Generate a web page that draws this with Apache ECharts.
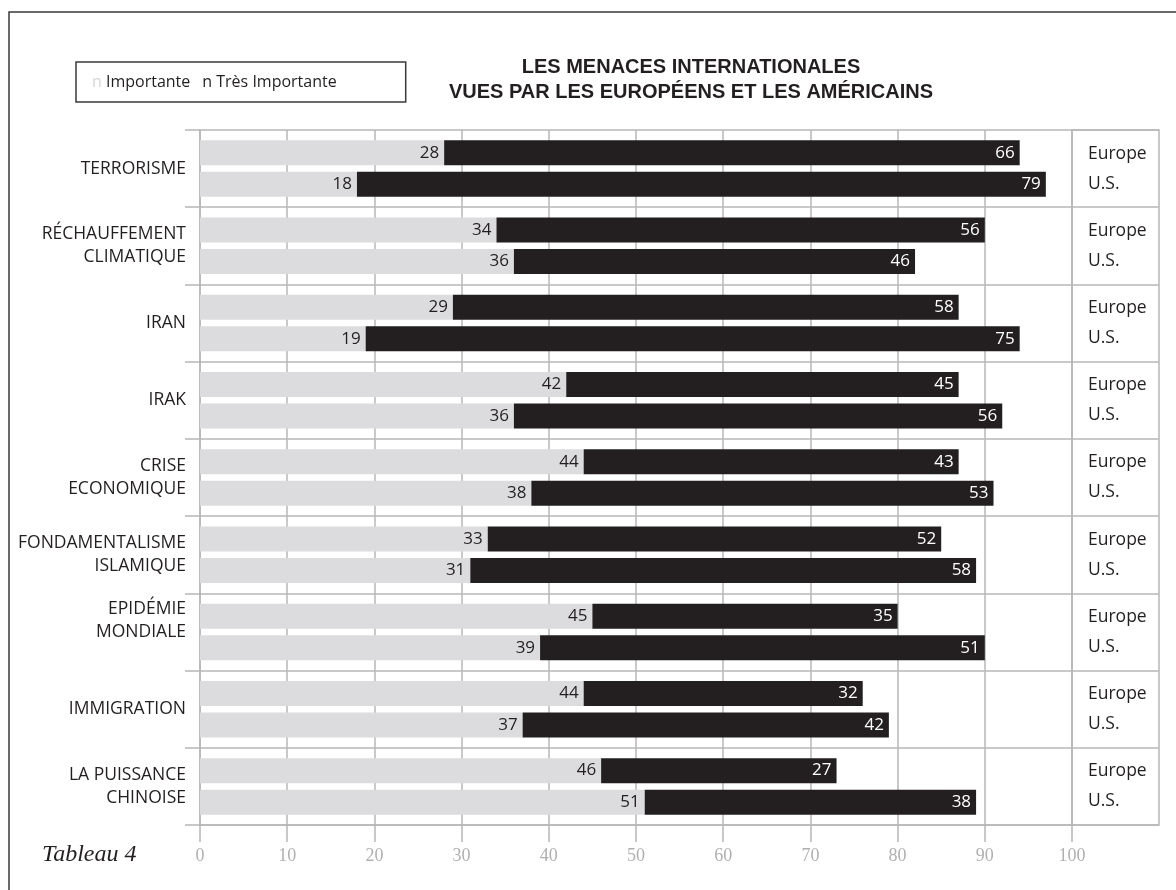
<!DOCTYPE html>
<html>
<head>
<meta charset="utf-8">
<title>Les menaces internationales</title>
<script src="https://cdn.jsdelivr.net/npm/echarts@6/dist/echarts.min.js"></script>
<style>
  html, body { margin: 0; padding: 0; background: #ffffff; }
  #chart { width: 1176px; height: 890px; }
</style>
</head>
<body>
<div id="chart"></div>
<script>
// categories, top to bottom
var categories = [
  'TERRORISME',
  'RÉCHAUFFEMENT\nCLIMATIQUE',
  'IRAN',
  'IRAK',
  'CRISE\nECONOMIQUE',
  'FONDAMENTALISME\nISLAMIQUE',
  'EPIDÉMIE\nMONDIALE',
  'IMMIGRATION',
  'LA PUISSANCE\nCHINOISE'
]
var regions = ['Europe', 'U.S.']
var xTicks = [0, 10, 20, 30, 40, 50, 60, 70, 80, 90, 100]

// % importante / très importante
var europeImportante = [28, 34, 29, 42, 44, 33, 45, 44, 46]
var europeTres = [66, 56, 58, 45, 43, 52, 35, 32, 27]
var usImportante = [18, 36, 19, 36, 38, 31, 39, 37, 51]
var usTres = [79, 46, 75, 56, 53, 58, 51, 42, 38]

var GRAY = '#dcdcde'
var DARK = '#231f20'
var LINE = '#b7b7b9'
var SANS = '"Open Sans", "Noto Sans", sans-serif'
var SERIF = '"Liberation Serif", "DejaVu Serif", serif'

var chart = echarts.init(document.getElementById('chart'))

function barSeries(name, stack, data, color, labelColor) {
  return {
    name: name,
    type: 'bar',
    stack: stack,
    barWidth: 25,
    barGap: '26%',
    data: data,
    itemStyle: { color: color },
    label: {
      show: true,
      position: 'insideRight',
      distance: 5,
      color: labelColor,
      fontFamily: SANS,
      fontSize: 17
    }
  }
}

chart.setOption({
  animation: false,
  backgroundColor: '#ffffff',
  graphic: [
    {
      type: 'rect',
      shape: { x: 9, y: 12, width: 1200, height: 900 },
      style: { fill: null, stroke: '#3a3a3a', lineWidth: 1.5 },
      silent: true
    }
  ],
  title: [
    {
      text: 'LES MENACES INTERNATIONALES\nVUES PAR LES EUROPÉENS ET LES AMÉRICAINS',
      left: 691,
      top: 55,
      padding: 0,
      textAlign: 'center',
      textStyle: {
        fontFamily: '"Liberation Sans", Arial, sans-serif',
        fontWeight: 'bold',
        fontSize: 20,
        lineHeight: 25,
        color: DARK
      }
    },
    {
      text: 'Tableau 4',
      left: 42,
      top: 843,
      padding: 0,
      textStyle: {
        fontFamily: SERIF,
        fontStyle: 'italic',
        fontWeight: 'normal',
        fontSize: 24,
        color: DARK
      }
    }
  ],
  legend: {
    left: 76,
    top: 62,
    data: ['Importante', 'Très Importante'],
    icon: 'none',
    itemWidth: 0,
    itemHeight: 0,
    itemGap: 7,
    padding: [10, 69, 10, 11],
    borderColor: '#3a3a3a',
    borderWidth: 1.5,
    selectedMode: false,
    formatter: function (name) {
      return (name === 'Importante' ? '{g|n}' : '{k|n}') + ' ' + name
    },
    textStyle: {
      fontFamily: SANS,
      fontSize: 16,
      lineHeight: 20,
      color: DARK,
      rich: {
        g: { color: '#d6d6d6', fontFamily: SANS, fontSize: 16 },
        k: { color: DARK, fontFamily: SANS, fontSize: 16 }
      }
    }
  },
  grid: [
    { left: 200, right: 104, top: 130, bottom: 65, outerBoundsMode: 'none' },
    {
      left: 1072, width: 87, top: 130, bottom: 65, outerBoundsMode: 'none',
      show: true, borderColor: LINE, borderWidth: 1.5, backgroundColor: 'transparent'
    }
  ],
  xAxis: [
    {
      gridIndex: 0,
      type: 'value',
      min: xTicks[0],
      max: xTicks[xTicks.length - 1],
      interval: xTicks[1] - xTicks[0],
      axisLine: { show: true, lineStyle: { color: LINE, width: 1.5 } },
      axisTick: { show: true, length: 17, lineStyle: { color: LINE, width: 1.5 } },
      splitLine: { show: true, lineStyle: { color: LINE, width: 1.5 } },
      axisLabel: {
        margin: 22,
        color: '#b0b0b0',
        fontFamily: SERIF,
        fontSize: 18
      }
    },
    {
      gridIndex: 1,
      type: 'value',
      min: 0,
      max: 1,
      show: false
    }
  ],
  yAxis: [
    {
      gridIndex: 0,
      type: 'category',
      inverse: true,
      data: categories,
      axisLine: { show: true, lineStyle: { color: LINE, width: 1.5 } },
      axisTick: { show: true, length: 15, lineStyle: { color: LINE, width: 1.5 } },
      splitLine: { show: true, lineStyle: { color: LINE, width: 1.5 } },
      axisLabel: {
        margin: 14,
        color: DARK,
        fontFamily: SANS,
        fontSize: 17.5,
        lineHeight: 23,
        align: 'right',
        // the EPIDÉMIE label sits a bit higher in the original
        formatter: function (v) {
          return v.indexOf('EPID') === 0 ? v + '\n' : v
        }
      }
    },
    {
      gridIndex: 1,
      type: 'category',
      inverse: true,
      data: categories,
      axisLine: { show: false },
      axisTick: { show: false },
      splitLine: { show: true, lineStyle: { color: LINE, width: 1.5 } },
      axisLabel: {
        inside: true,
        margin: 16,
        color: DARK,
        fontFamily: SANS,
        fontSize: 17.5,
        lineHeight: 30,
        align: 'left',
        formatter: function () { return regions.join('\n') }
      }
    }
  ],
  series: [
    barSeries('Importante', 'eu', europeImportante, GRAY, DARK),
    barSeries('Très Importante', 'eu', europeTres, DARK, '#ffffff'),
    barSeries('Importante', 'us', usImportante, GRAY, DARK),
    barSeries('Très Importante', 'us', usTres, DARK, '#ffffff')
  ]
})
</script>
</body>
</html>
